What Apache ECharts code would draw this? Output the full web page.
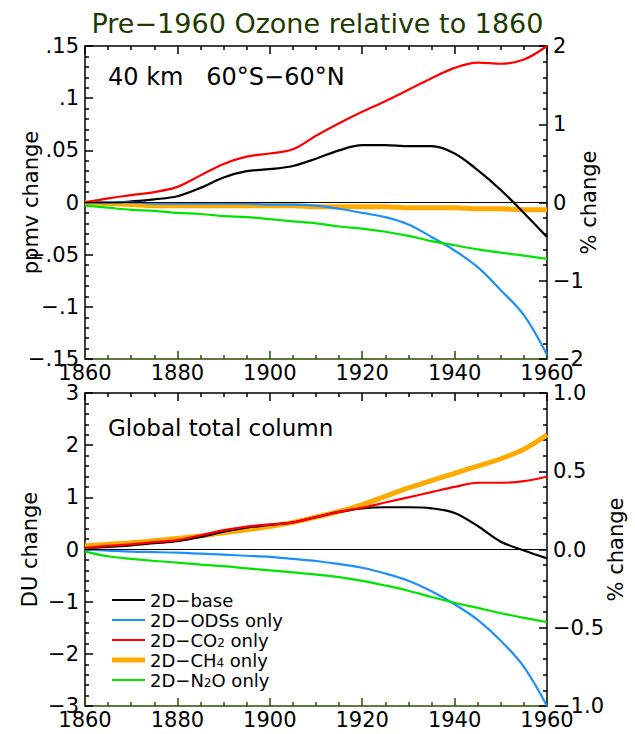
<!DOCTYPE html>
<html>
<head>
<meta charset="utf-8">
<script src="https://cdn.jsdelivr.net/npm/echarts@6/dist/echarts.min.js"></script>
<style>
  html, body { margin: 0; padding: 0; background: #fff; }
  #chart { width: 635px; height: 734px; }
</style>
</head>
<body>
<div id="chart"></div>
<script>
// Years sampled every 5 years
const years = [1860,1865,1870,1875,1880,1885,1890,1895,1900,1905,1910,1915,1920,1925,1930,1935,1940,1945,1950,1955,1960];

// 40 km, 60S-60N ozone change (ppmv)
const top_base = [0,0,0.001,0.003,0.006,0.014,0.024,0.030,0.032,0.035,0.042,0.050,0.055,0.055,0.054,0.054,0.047,0.031,0.012,-0.010,-0.033];
const top_ods  = [0,0,0,-0.001,-0.001,-0.001,-0.001,-0.001,-0.002,-0.002,-0.003,-0.006,-0.010,-0.014,-0.021,-0.033,-0.046,-0.062,-0.084,-0.108,-0.146];
const top_co2  = [0,0.004,0.007,0.010,0.015,0.026,0.037,0.044,0.047,0.051,0.064,0.076,0.087,0.097,0.108,0.119,0.129,0.134,0.133,0.137,0.150];
const top_ch4  = [0,-0.001,-0.002,-0.003,-0.003,-0.003,-0.003,-0.003,-0.003,-0.003,-0.004,-0.004,-0.004,-0.004,-0.005,-0.005,-0.005,-0.006,-0.006,-0.007,-0.007];
const top_n2o  = [-0.003,-0.005,-0.007,-0.008,-0.010,-0.011,-0.013,-0.014,-0.016,-0.018,-0.020,-0.023,-0.025,-0.028,-0.032,-0.037,-0.041,-0.045,-0.048,-0.051,-0.054];

// Global total column ozone change (DU)
const col_base = [0.02,0.05,0.08,0.12,0.16,0.24,0.34,0.42,0.47,0.52,0.62,0.72,0.79,0.81,0.81,0.79,0.70,0.45,0.15,-0.02,-0.17];
const col_ods  = [0,-0.02,-0.04,-0.05,-0.06,-0.08,-0.10,-0.12,-0.14,-0.18,-0.22,-0.28,-0.35,-0.46,-0.60,-0.80,-1.05,-1.35,-1.75,-2.25,-3.00];
const col_co2  = [0.03,0.07,0.10,0.14,0.18,0.27,0.37,0.44,0.48,0.52,0.62,0.72,0.80,0.90,1.00,1.10,1.20,1.28,1.28,1.31,1.40];
const col_ch4  = [0.07,0.10,0.13,0.17,0.21,0.26,0.32,0.38,0.44,0.52,0.62,0.73,0.86,1.02,1.18,1.32,1.46,1.60,1.74,1.92,2.20];
const col_n2o  = [-0.04,-0.13,-0.18,-0.22,-0.25,-0.29,-0.32,-0.36,-0.40,-0.44,-0.48,-0.53,-0.60,-0.69,-0.79,-0.91,-1.02,-1.12,-1.22,-1.31,-1.39];

const seriesNames = ['2D−base', '2D−ODSs only', '2D−CO2 only', '2D−CH4 only', '2D−N2O only'];
// legend text with chemical subscripts
const legendLabels = ['2D−base', '2D−ODSs only', '2D−CO{sub|2} only', '2D−CH{sub|4} only', '2D−N{sub|2}O only'];
const seriesColors = ['#000000', '#1e8fff', '#ff0000', '#ffaa00', '#00e400'];
const seriesWidths = [2.2, 2.2, 2.2, 5, 2.2];

const FONT = 'DejaVu Sans';
const AXIS_GREEN = '#2b4f00';
const MINUS = '\u2212';

function pair(ys) { return years.map((y, i) => [y, ys[i]]); }

function ppmvLabel(v) {
  if (Math.abs(v) < 1e-9) return '0';
  const s = Math.abs(+v.toFixed(2)).toString().replace(/^0/, '');
  return (v < 0 ? MINUS : '') + s;
}
function intLabel(v) {
  if (Math.abs(v) < 1e-9) return '0';
  return (v < 0 ? MINUS : '') + Math.abs(Math.round(v));
}
function pctLabel(v) {
  const s = Math.abs(v).toFixed(1);
  return (v < -1e-9 ? MINUS : '') + s;
}

const labelStyle = { fontFamily: FONT, fontSize: 21, color: '#000' };

function xAxes(gridIndex) {
  const bottom = {
    type: 'value', gridIndex, min: 1860, max: 1960, interval: 20, position: 'bottom',
    axisLine: { show: true, onZero: false, lineStyle: { color: AXIS_GREEN, width: 1.5 } },
    axisTick: { show: true, inside: true, length: 8, lineStyle: { color: AXIS_GREEN, width: 1.5 } },
    minorTick: { show: true, splitNumber: 4, length: 4, lineStyle: { color: AXIS_GREEN, width: 1.5 } },
    splitLine: { show: false },
    axisLabel: Object.assign({ show: true, margin: 3, formatter: v => String(v) }, labelStyle)
  };
  const top = {
    type: 'value', gridIndex, min: 1860, max: 1960, interval: 20, position: 'top',
    axisLine: { show: true, onZero: false, lineStyle: { color: '#000', width: 1.5 } },
    axisTick: { show: true, inside: true, length: 8, lineStyle: { color: '#000', width: 1.5 } },
    minorTick: { show: true, splitNumber: 4, length: 4, lineStyle: { color: '#000', width: 1.5 } },
    splitLine: { show: false },
    axisLabel: { show: false }
  };
  return [bottom, top];
}

function yAxis(gridIndex, position, min, max, interval, formatter, name, nameGap) {
  return {
    type: 'value', gridIndex, position, min, max, interval,
    name, nameLocation: 'middle', nameRotate: 90, nameGap, nameMoveOverlap: false,
    nameTextStyle: { fontFamily: FONT, fontSize: 21, color: '#000' },
    axisLine: { show: true, onZero: false, lineStyle: { color: '#000', width: 1.5 } },
    axisTick: { show: true, inside: true, length: 8, lineStyle: { color: '#000', width: 1.5 } },
    minorTick: { show: true, splitNumber: 5, length: 4, lineStyle: { color: '#000', width: 1.5 } },
    splitLine: { show: false },
    axisLabel: Object.assign({ margin: 6, formatter }, labelStyle)
  };
}

function makeSeries(datasets, xIndex, yIndex) {
  return datasets.map((d, i) => {
    const s = {
      name: seriesNames[i], type: 'line', xAxisIndex: xIndex, yAxisIndex: yIndex,
      data: pair(d), smooth: 0.35, showSymbol: false, symbol: 'none', silent: true,
      lineStyle: { color: seriesColors[i], width: seriesWidths[i] },
      itemStyle: { color: seriesColors[i] },
      z: i === 3 ? 2 : 3
    };
    if (i === 0) {
      s.markLine = {
        silent: true, symbol: 'none', animation: false,
        label: { show: false },
        lineStyle: { color: '#000', width: 1, type: 'solid' },
        data: [{ yAxis: 0 }]
      };
    }
    return s;
  });
}

// legend icons: thin bar for most entries, thick bar for CH4
const THIN_ICON = 'path://M0 0H66V4H0Z';
const THICK_ICON = 'path://M0 0H33V5H0Z';

const gridBox = { left: 85, width: 462, height: 313, outerBoundsMode: 'none', containLabel: false };

const option = {
  animation: false,
  title: {
    text: 'Pre' + MINUS + '1960 Ozone relative to 1860',
    left: 'center', top: 5,
    textStyle: { fontFamily: FONT, fontSize: 27, fontWeight: 'normal', color: '#1f3a00' }
  },
  graphic: [
    { type: 'text', left: 108, top: 65, style: { text: '40 km   60°S' + MINUS + '60°N', font: '24px "DejaVu Sans"', fill: '#000' } },
    { type: 'text', left: 108, top: 416, style: { text: 'Global total column', font: '23px "DejaVu Sans"', fill: '#000' } }
  ],
  legend: {
    data: seriesNames.map((n, i) => ({ name: n, icon: i === 3 ? THICK_ICON : THIN_ICON, itemStyle: { color: seriesColors[i] } })),
    orient: 'vertical', left: 107, top: 586,
    itemWidth: 33, itemHeight: 5, itemGap: 2,
    selectedMode: false,
    formatter: n => legendLabels[seriesNames.indexOf(n)],
    textStyle: {
      fontFamily: FONT, fontSize: 18, color: '#000', lineHeight: 18,
      rich: { sub: { fontFamily: FONT, fontSize: 12, color: '#000', verticalAlign: 'bottom', padding: [8, 0, 0, 0] } }
    }
  },
  grid: [
    Object.assign({ top: 46 }, gridBox),
    Object.assign({ top: 393 }, gridBox)
  ],
  xAxis: [].concat(xAxes(0), xAxes(1)),
  yAxis: [
    yAxis(0, 'left', -0.15, 0.15, 0.05, ppmvLabel, 'ppmv change', 44),
    yAxis(0, 'right', -2, 2, 1, intLabel, '% change', 31),
    yAxis(1, 'left', -3, 3, 1, intLabel, 'DU change', 45),
    yAxis(1, 'right', -1, 1, 0.5, pctLabel, '% change', 58)
  ],
  series: [].concat(
    makeSeries([top_base, top_ods, top_co2, top_ch4, top_n2o], 0, 0),
    makeSeries([col_base, col_ods, col_co2, col_ch4, col_n2o], 2, 2)
  )
};

const chart = echarts.init(document.getElementById('chart'), null, { renderer: 'svg' });
chart.setOption(option);
</script>
</body>
</html>
